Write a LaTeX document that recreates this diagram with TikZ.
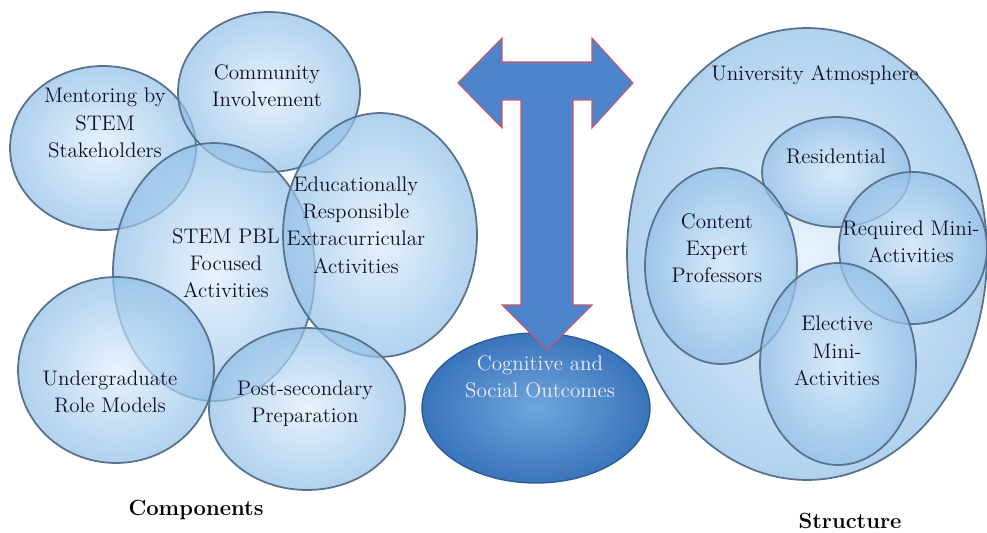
\documentclass[tikz,border=0pt]{standalone}
\usetikzlibrary{shapes.geometric,calc}

\definecolor{bubblein}{RGB}{222,238,251}
\definecolor{bubbleout}{RGB}{146,192,232}
\definecolor{bubbleedge}{RGB}{88,114,140}
\definecolor{textnavy}{RGB}{15,15,40}
\definecolor{arrowblue}{RGB}{76,133,204}
\definecolor{arrowedge}{RGB}{214,82,104}
\definecolor{outin}{RGB}{112,166,222}
\definecolor{outout}{RGB}{58,116,186}

\begin{document}
\begin{tikzpicture}[
        x=0.02cm, y=-0.02cm,
        % light blue bubbles
        bubble/.style = {
            ellipse,
            draw=bubbleedge,
            line width=1pt,
            inner sep=0pt,
            outer sep=0pt,
            inner color=bubblein,
            outer color=bubbleout,
            fill opacity=0.72
        },
        % text inside the bubbles
        bubble text/.style = {
            align=center,
            text=textnavy,
            font=\fontsize{12}{15.5}\selectfont
        },
        % captions under each group
        caption/.style = {
            font=\fontsize{12.5}{15}\selectfont\bfseries
        }
    ]
    \tikzset{
        outcome/.style={ellipse, draw=outout!80!black, line width=0.8pt, inner sep=0pt,
            inner color=outin, outer color=outout}
    }
    \useasboundingbox (0,0) rectangle (987,533);

    % Components
    \node[bubble, minimum width=3.72cm, minimum height=3.28cm] (mentor) at (103,148) {};
    \node[bubble, minimum width=3.64cm, minimum height=3.2cm] (community) at (269,92) {};
    \node[bubble, minimum width=4.04cm, minimum height=5.16cm] (pbl) at (214,272) {};
    \node[bubble, minimum width=3.88cm, minimum height=4.88cm] (extra) at (380,235) {};
    \node[bubble, minimum width=3.92cm, minimum height=3.72cm] (undergrad) at (116,370) {};
    \node[bubble, minimum width=3.92cm, minimum height=3.24cm] (postsec) at (307,409) {};

    \node[bubble text] (mentortxt) at (105,123) {Mentoring by\\STEM\\Stakeholders};
    \node[bubble text] (communitytxt) at (267,86) {Community\\Involvement};
    \node[bubble text] (pbltxt) at (226,263) {STEM PBL\\Focused\\Activities};
    \node[bubble text] (extratxt) at (356,225) {Educationally\\Responsible\\Extracurricular\\Activities};
    \node[bubble text] (undergradtxt) at (110,392) {Undergraduate\\Role Models};
    \node[bubble text] (postsectxt) at (305,404) {Post-secondary\\Preparation};

    \node[caption] (components) at (196,510) {Components};

    % outcomes
    \node[outcome, minimum width=4.56cm, minimum height=3.0cm] (outcomes) at (536,408) {};
    \node[bubble text, text=white!92!blue] (outcomestxt) at (540,377) {Cognitive and\\Social Outcomes};

    % two-way arrow
    \draw[fill=arrowblue, draw=arrowedge, line width=0.6pt]
        (458,83) -- (502,38) -- (502,62) -- (592,62) -- (592,38) -- (633,83)
        -- (592,128) -- (592,100) -- (573,100) -- (573,305) -- (592,305)
        -- (547,350) -- (502,305) -- (521,305) -- (521,100) -- (502,100)
        -- (502,128) -- cycle;

    % Structure
    \node[bubble, minimum width=7.2cm, minimum height=9.04cm] (univ) at (807,254) {};
    \node[bubble, minimum width=2.96cm, minimum height=2.2cm] (resid) at (836,172) {};
    \node[bubble, minimum width=3.04cm, minimum height=3.92cm] (content) at (721,266) {};
    \node[bubble, minimum width=2.96cm, minimum height=3.04cm] (required) at (913,248) {};
    \node[bubble, minimum width=3.12cm, minimum height=4.04cm] (elective) at (838,364) {};

    \node[bubble text] (univtxt) at (815,75) {University Atmosphere};
    \node[bubble text] (residtxt) at (836,156) {Residential};
    \node[bubble text] (contenttxt) at (717,248) {Content\\Expert\\Professors};
    \node[bubble text] (requiredtxt) at (911,242) {Required Mini-\\Activities};
    \node[bubble text] (electivetxt) at (837,351) {Elective\\Mini-\\Activities};

    \node[caption] (structure) at (850,521) {Structure};
\end{tikzpicture}
\end{document}
